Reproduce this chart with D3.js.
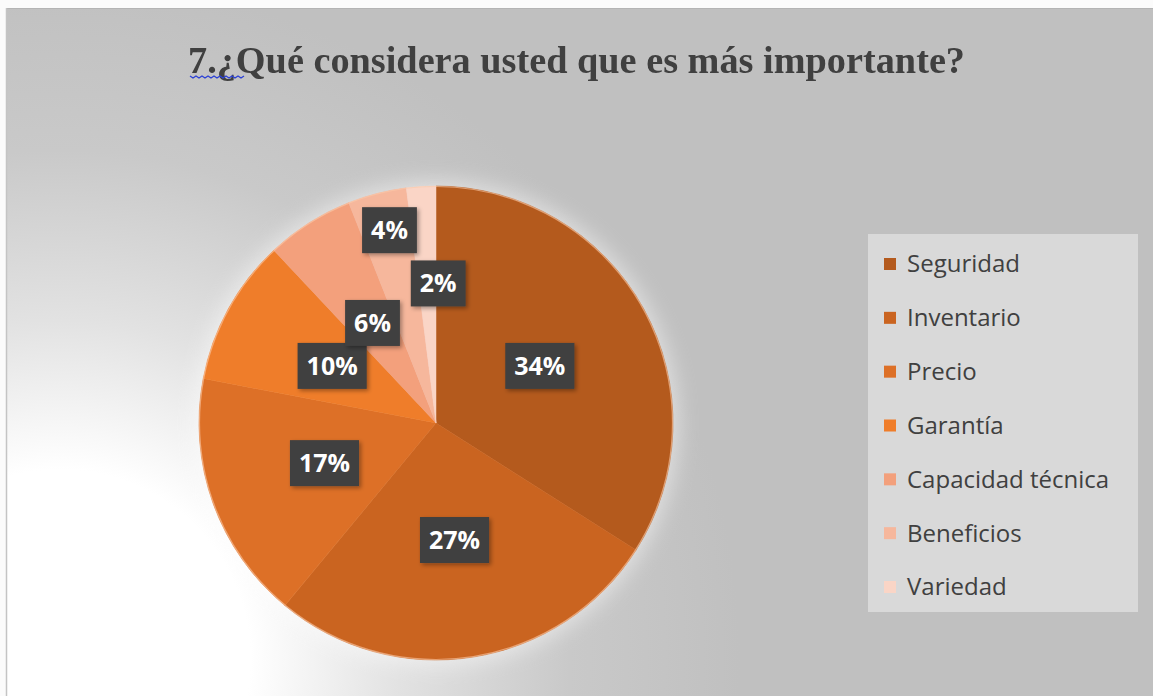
<!DOCTYPE html>
<html>
<head>
<meta charset="utf-8">
<script src="https://cdn.jsdelivr.net/npm/d3@7"></script>
<style>
  html, body { margin: 0; padding: 0; background: #fff; }
  svg { display: block; }
</style>
</head>
<body>
<svg id="chart" width="1153" height="696"></svg>
<script>
// Survey answers: share of respondents per option (percent)
const categories = ["Seguridad", "Inventario", "Precio", "Garantía", "Capacidad técnica", "Beneficios", "Variedad"];
const values = [34, 27, 17, 10, 6, 4, 2];
const sliceColors = ["#b45a1d", "#ca6420", "#dd7027", "#ef7d2a", "#f3a07c", "#f6b79c", "#fad5c6"];
const titleText = "7.¿Qué considera usted que es más importante?";

const W = 1153, H = 696;
const svg = d3.select("#chart");
const defs = svg.append("defs");

// Chart area background: grey with a soft white wash from the lower left
const bg = defs.append("radialGradient").attr("id", "bgGrad")
  .attr("gradientUnits", "userSpaceOnUse")
  .attr("cx", 60).attr("cy", 660).attr("r", 680);
bg.append("stop").attr("offset", 0).attr("stop-color", "#ffffff");
bg.append("stop").attr("offset", 0.28).attr("stop-color", "#ffffff");
bg.append("stop").attr("offset", 0.5).attr("stop-color", "#e2e2e2");
bg.append("stop").attr("offset", 0.75).attr("stop-color", "#c9c9c9");
bg.append("stop").attr("offset", 1).attr("stop-color", "#c0c0c0");

const glow = defs.append("filter").attr("id", "glow")
  .attr("x", "-30%").attr("y", "-30%").attr("width", "160%").attr("height", "160%");
glow.append("feGaussianBlur").attr("stdDeviation", 10);

const shadow = defs.append("filter").attr("id", "boxShadow")
  .attr("x", "-30%").attr("y", "-30%").attr("width", "160%").attr("height", "160%");
shadow.append("feDropShadow").attr("dx", 2).attr("dy", 2).attr("stdDeviation", 2)
  .attr("flood-color", "#000").attr("flood-opacity", 0.35);

const soft = defs.append("filter").attr("id", "soft");
soft.append("feGaussianBlur").attr("stdDeviation", 0.6);

// white page strip and chart frame
svg.append("rect").attr("width", W).attr("height", H).attr("fill", "#fbfbfb");
svg.append("rect").attr("x", 6).attr("y", 8).attr("width", W - 6).attr("height", H - 8)
  .attr("fill", "#c0c0c0");
svg.append("rect").attr("x", 6).attr("y", 8).attr("width", W - 6).attr("height", H - 8)
  .attr("fill", "url(#bgGrad)");
svg.append("line").attr("x1", 6).attr("x2", W).attr("y1", 8.5).attr("y2", 8.5)
  .attr("stroke", "#b4b4b4").attr("stroke-width", 1);
svg.append("line").attr("x1", 6.5).attr("x2", 6.5).attr("y1", 8).attr("y2", H)
  .attr("stroke", "#c4c4c4").attr("stroke-width", 1.5);

// Title
svg.append("text")
  .attr("x", 188).attr("y", 73)
  .attr("textLength", 777).attr("lengthAdjust", "spacingAndGlyphs")
  .attr("font-family", "'Liberation Serif', 'Times New Roman', serif")
  .attr("font-weight", "bold").attr("font-size", 37)
  .attr("fill", "#3f3f3f")
  .attr("filter", "url(#soft)")
  .text(titleText);

// spell-check squiggle under the question number
const squiggle = d3.range(0, 56, 3).map((d, i) => [190 + d, 76 + (i % 2 ? 2 : 0)]);
svg.append("path")
  .attr("d", d3.line()(squiggle))
  .attr("fill", "none").attr("stroke", "#2a3fd6").attr("stroke-width", 1.3);

// Pie
const cx = 436, cy = 423, R = 237;
const pie = d3.pie().sort(null).value(d => d.value);
const data = categories.map((c, i) => ({ name: c, value: values[i], color: sliceColors[i] }));
const arcs = pie(data);
const arc = d3.arc().innerRadius(0).outerRadius(R);

const g = svg.append("g").attr("transform", `translate(${cx},${cy})`);

// soft white halo behind the pie
g.append("circle").attr("r", R + 6).attr("fill", "#ffffff").attr("opacity", 0.45)
  .attr("filter", "url(#glow)");

g.selectAll("path.slice")
  .data(arcs)
  .join("path")
  .attr("class", "slice")
  .attr("d", arc)
  .attr("fill", d => d.data.color)
  .attr("stroke", d => d.data.color)
  .attr("stroke-width", 0.5);

// thin light rim along the outer edge
g.append("circle").attr("r", R - 0.5).attr("fill", "none")
  .attr("stroke", "#fbc9a8").attr("stroke-width", 1.2).attr("opacity", 0.6);

// Data labels: placed at half radius; the two thinnest slices are pushed aside
const labelPlacement = {
  "Beneficios": { k: 0.84, dx: 3, dy: 0 },
  "Variedad": { k: 0.59, dx: 11, dy: 0 }
};
const labels = g.selectAll("g.lbl")
  .data(arcs)
  .join("g")
  .attr("class", "lbl")
  .attr("transform", d => {
    const p = labelPlacement[d.data.name] || { k: 0.5, dx: 0, dy: 0 };
    const c = d3.arc().innerRadius(R * p.k).outerRadius(R * p.k).centroid(d);
    return `translate(${c[0] + p.dx},${c[1] + p.dy})`;
  });

labels.each(function (d) {
  const sel = d3.select(this);
  const txt = d.data.value + "%";
  const t = sel.append("text")
    .attr("text-anchor", "middle")
    .attr("dy", "0.36em")
    .attr("font-family", "'Open Sans', 'DejaVu Sans', sans-serif")
    .attr("font-weight", "bold").attr("font-size", 25)
    .attr("fill", "#ffffff")
    .text(txt);
  const bb = t.node().getBBox();
  const bw = bb.width + 18, bh = 46;
  sel.insert("rect", "text")
    .attr("x", -bw / 2).attr("y", -bh / 2)
    .attr("width", bw).attr("height", bh)
    .attr("fill", "#404040")
    .attr("filter", "url(#boxShadow)");
});

// Legend
const lx = 868, ly = 234, lw = 270, lh = 378;
const legend = svg.append("g");
legend.append("rect").attr("x", lx).attr("y", ly).attr("width", lw).attr("height", lh)
  .attr("fill", "#d9d9d9");
const rowY = d3.scalePoint().domain(categories).range([264, 587]);
const items = legend.selectAll("g.item").data(data).join("g").attr("class", "item")
  .attr("transform", d => `translate(0,${rowY(d.name)})`);
items.append("rect").attr("x", 884).attr("y", -6).attr("width", 12).attr("height", 12)
  .attr("fill", d => d.color);
items.append("text").attr("x", 907).attr("dy", "0.35em")
  .attr("font-family", "'Open Sans', 'Noto Sans', sans-serif")
  .attr("font-size", 24).attr("fill", "#404040")
  .text(d => d.name);
</script>
</body>
</html>
